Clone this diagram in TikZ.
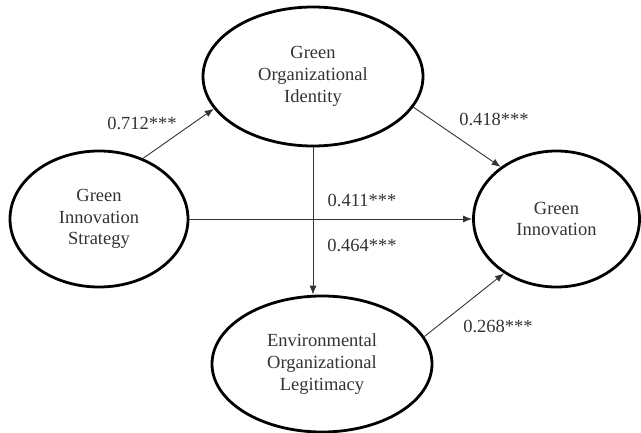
\documentclass[tikz,border=0pt]{standalone}
\usepackage{fontspec}
\setmainfont{Liberation Serif}
\usetikzlibrary{shapes.geometric,arrows.meta}
\begin{document}
\begin{tikzpicture}[x=1pt,y=-1pt,
  construct/.style={ellipse,draw=black,line width=2.8pt,inner sep=0pt,align=center,
    text=black!80,font=\fontsize{18.5}{21.7}\selectfont},
  path/.style={draw=black!80,line width=0.9pt,-{Latex[length=9pt,width=7pt]}},
  coef/.style={text=black!80,font=\fontsize{18.5}{21.7}\selectfont,inner sep=0pt}]
\useasboundingbox (0,0) rectangle (641,433);
\node[construct,minimum width=220pt,minimum height=139pt] (goi) at (313,76.5) {Green\\Organizational\\Identity};
\node[construct,minimum width=178pt,minimum height=136pt] (gis) at (99,219) {Green\\Innovation\\Strategy};
\node[construct,minimum width=166pt,minimum height=136pt] (gi) at (556.5,219) {Green\\Innovation};
\node[construct,minimum width=220pt,minimum height=136pt] (eol) at (322,364) {Environmental\\Organizational\\Legitimacy};
\draw[path] (gis.54.7) -- (goi.198.5);
\draw[path] (goi.-17.2) -- (gi.137.2);
\draw[path] (gis.east) -- (gi.west);
\draw[path] (goi.south) -- (goi.south |- eol.north);
\draw[path] (eol.15.5) -- (gi.226.5);
\node[coef] (c1) at (142,123) {0.712***};
\node[coef] (c2) at (494,119) {0.418***};
\node[coef] (c3) at (362,200) {0.411***};
\node[coef] (c4) at (362,245) {0.464***};
\node[coef] (c5) at (498,326) {0.268***};
\end{tikzpicture}
\end{document}
